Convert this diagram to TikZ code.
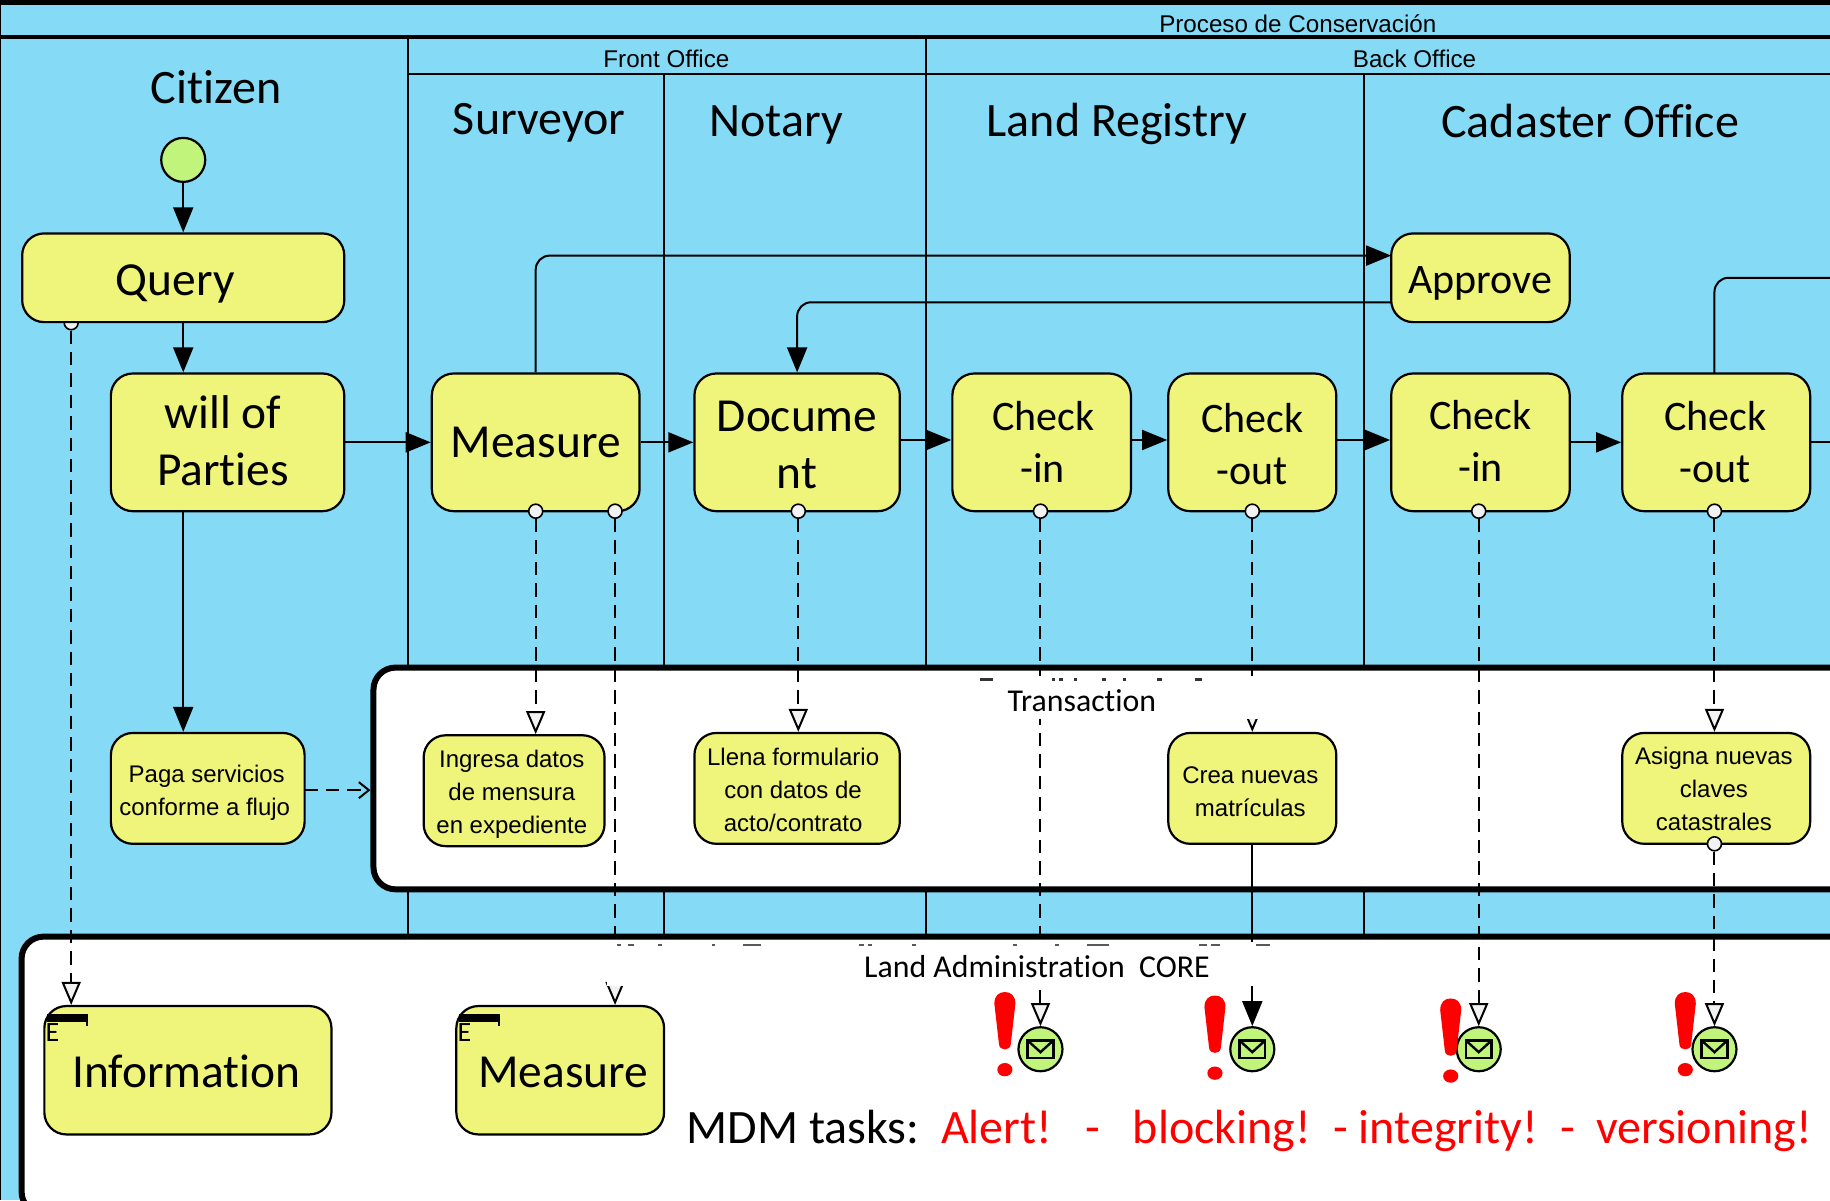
\documentclass[tikz,border=0pt]{standalone}
\usepackage{fontspec}
\setmainfont{Carlito}[Ligatures=NoCommon]
\newfontfamily\arialf{Liberation Sans}
\usetikzlibrary{arrows.meta,backgrounds}
\definecolor{lane}{HTML}{85DBF6}
\definecolor{taskfill}{HTML}{EFF47A}
\definecolor{evfill}{HTML}{C1F47A}
\definecolor{tipfill}{HTML}{F2F2F2}
\def\U{0.5835}
\newcommand{\boxat}[7]{%
  \pgfmathsetmacro\cx{(#3+#5)/2}\pgfmathsetmacro\cy{(#4+#6)/2}%
  \pgfmathsetmacro\ww{(#5-#3)*\U}\pgfmathsetmacro\hh{(#6-#4)*\U}%
  \node[#1,minimum width=\ww pt,minimum height=\hh pt] (#2) at (\cx,\cy) {#7};}
\newcommand{\nudge}[2]{\raisebox{#1}[\height][\depth]{\begin{tabular}{@{}c@{}}#2\end{tabular}}}
\newcommand{\bang}[3]{%
  \begin{scope}[shift={(#1,#2)},yscale=#3]
  \fill[red] (0,10) .. controls (0,3) and (4,0) .. (9,0) .. controls (14,0) and (18,3) .. (18,10)
    -- (14,45) .. controls (13.5,50.5) and (4.5,50.5) .. (4,45) -- cycle;
  \fill[red] (9,66.5) ellipse [x radius=6.5,y radius=5.7];
  \end{scope}}
\newcommand{\envelope}[2]{%
  \begin{scope}[shift={(#1,#2)}]
  \draw[line width=1.2pt] (-11,-7.5) rectangle (11,7.5);
  \draw[line width=1.2pt] (-11,-7.5) -- (0,2.5) -- (11,-7.5);
  \end{scope}}
\newcommand{\marker}[2]{%
  \begin{scope}[shift={(#1,#2)}]
  \fill (0,0) rectangle (35,7);
  \draw[line width=.6pt] (34.5,7) -- (34.5,10);
  \end{scope}}
\tikzset{
  x=0.5835pt,y=-0.5835pt,
  taskbox/.style={rectangle,draw,fill=taskfill,line width=1.1pt,rounded corners=11pt,inner sep=0pt,align=center},
  bigtask/.style={taskbox,font=\fontsize{23.7}{28.6}\selectfont},
  midtask/.style={taskbox,font=\fontsize{21}{26}\selectfont},
  smalltask/.style={taskbox,font=\arialf\fontsize{12}{16.5}\selectfont},
  container/.style={rectangle,draw,fill=white,line width=3pt,rounded corners=11pt,inner sep=0pt},
  lanehead/.style={inner sep=0pt,anchor=base,font=\fontsize{24}{28}\selectfont},
  midhead/.style={inner sep=0pt,font=\arialf\fontsize{12.1}{15}\selectfont},
  boxtitle/.style={inner sep=0pt,font=\fontsize{15.9}{19}\selectfont},
  lanerule/.style={line width=1pt},
  seq/.style={line width=1pt,-{Triangle[length=12.5pt,width=10pt]}},
  msg/.style={line width=1pt,dash pattern=on 6.7pt off 4pt,-{Triangle[length=11.5pt,width=9.5pt,fill=tipfill]}},
  portnode/.style={circle,draw,fill=tipfill,line width=.8pt,minimum size=7pt,inner sep=0pt},
  startev/.style={circle,draw,fill=evfill,line width=1.1pt,minimum size=22pt,inner sep=0pt},
  msgev/.style={circle,draw,fill=evfill,line width=1.1pt,minimum size=22pt,inner sep=0pt},
  mdm/.style={inner sep=0pt,anchor=base,font=\fontsize{24}{28}\selectfont},
  mdmred/.style={mdm,text=red},
  ebadge/.style={inner sep=0pt,font=\fontsize{14}{14}\selectfont},
}
\begin{document}
\begin{tikzpicture}
\useasboundingbox (0,0) rectangle (1568,1028.2);

% port hidden half behind the Query task
\node[portnode] (pq) at (61,276.5) {};

% tasks and events
\boxat{bigtask}{query}{19}{200}{295}{276}{\nudge{-2.9pt}{Query}\hspace*{8pt}}
\boxat{bigtask}{will}{95}{320}{295}{438}{\nudge{-1.7pt}{will of\\Parties}\hspace*{4.7pt}}
\boxat{bigtask}{meas}{370}{320}{548}{438}{Measure}
\boxat{bigtask}{doc}{595}{320}{771}{438}{\nudge{-3.2pt}{Docume\\nt}}
\boxat{midtask}{chka}{816}{320}{969}{438}{\hspace*{1.5pt}Check\\\hspace*{1pt}-in}
\boxat{midtask}{chkb}{1001}{320}{1145}{438}{\nudge{-2.9pt}{Check\\-out}}
\boxat{midtask}{chkc}{1192}{320}{1345}{438}{\nudge{-1.4pt}{Check\\-in}}
\boxat{midtask}{chkd}{1390}{320}{1551}{438}{Check\hspace*{1pt}\\-out\hspace*{1pt}}
\boxat{midtask}{appr}{1192}{200}{1345}{276}{\nudge{-2.9pt}{Approve}}
\boxat{smalltask}{paga}{95}{628}{261}{723}{\nudge{-1.8pt}{Paga servicios\\conforme a flujo\hspace*{2pt}}\hspace*{1pt}}
\boxat{smalltask}{ingr}{363}{630}{518}{725}{\nudge{-1.8pt}{Ingresa datos\\de mensura\\en expediente}\hspace*{2.3pt}}
\boxat{smalltask}{llen}{595}{628}{771}{723}{\nudge{-1.6pt}{Llena formulario\\con datos de\\acto/contrato}\hspace*{4pt}}
\boxat{smalltask}{crea}{1001}{628}{1145}{723}{\nudge{-2.4pt}{Crea nuevas\\matrículas}\hspace*{2pt}}
\boxat{smalltask}{asig}{1390}{628}{1551}{723}{\nudge{-1.2pt}{Asigna nuevas\\claves\\catastrales}\hspace*{2.3pt}}
\boxat{bigtask}{info}{38}{862}{284}{972}{\nudge{-2.9pt}{Information}\hspace*{1.5pt}}
\boxat{bigtask}{mtask}{391}{862}{569}{972}{\hspace*{3pt}\nudge{-2.95pt}{Measure}}
\node[startev] (start) at (157,137) {};
\node[msgev] (eva) at (891.5,899) {};
\node[msgev] (evb) at (1073,899) {};
\node[msgev] (evc) at (1267,899) {};
\node[msgev] (evd) at (1469,899) {};
\envelope{891.5}{899}\envelope{1073}{899}\envelope{1267}{899}\envelope{1469}{899}
\marker{40}{869}\marker{393}{869}
\node[ebadge] (einfo) at (45,885) {E};
\node[ebadge] (emeas) at (398,885) {E};

% ports
\node[portnode] (pma) at (459,438) {};
\node[portnode] (pmb) at (527,438) {};
\node[portnode] (pd) at (684,438) {};
\node[portnode] (pca) at (891.5,438) {};
\node[portnode] (pcb) at (1073,438) {};
\node[portnode] (pcc) at (1267,438) {};
\node[portnode] (pcd) at (1469,438) {};
\node[portnode] (pas) at (1469,723) {};

% free connector ends
\coordinate (exa) at (1568,379);
\coordinate (exb) at (1568,238);
\coordinate (ina) at (1192,219);
\coordinate (inb) at (1192,259);
\coordinate (wb) at (157,438);
\coordinate (chout) at (1469,320);
\coordinate (pgx) at (261,677);

% labels
\node[midhead] (tproc) at (1112,20) {Proceso de Conservación};
\node[midhead] (tfront) at (571,50) {Front Office};
\node[midhead] (tback) at (1212,50) {Back Office};
\node[lanehead] (tcit) at (185,89) {Citizen};
\node[lanehead] (tsur) at (462,115) {Surveyor};
\node[lanehead] (tnot) at (665,117) {Notary};
\node[lanehead] (tland) at (957,117) {Land Registry};
\node[lanehead] (tcad) at (1362.5,117.5) {Cadaster Office};
\node[boxtitle] (ttrans) at (927,600) {Transaction};
\node[boxtitle] (tcore) at (888.5,828) {Land Administration\ \ CORE};
\node[mdm] (tmdm) at (688,980) {MDM tasks:};
\node[mdmred] (talert) at (854,980) {Alert!};
\node[mdmred] (tda) at (936,980) {-};
\node[mdmred] (tblock) at (1047,980) {blocking!};
\node[mdmred] (tdb) at (1149,980) {-};
\node[mdmred] (tinteg) at (1241,980) {integrity!};
\node[mdmred] (tdc) at (1343,980) {-};
\node[mdmred] (tvers) at (1460,980) {versioning!};
\bang{852}{850}{1}\bang{1032}{853}{1}\bang{1234}{855.5}{1}\bang{1435}{850}{1}

\begin{pgfonlayer}{background}
  \fill[lane] (0,0) rectangle (1568,1028.2);
  \fill (0,0) rectangle (1568,4.5);
  \draw[line width=.6pt] (.6,4) -- (.6,1028.2);
  \draw[line width=2pt] (0,32) -- (1568,32);
  \draw[lanerule] (350,63) -- (1568,63);
  \draw[lanerule] (350,32) -- (350,802);
  \draw[lanerule] (793.5,32) -- (793.5,802);
  \draw[lanerule] (569,63) -- (569,802);
  \draw[lanerule] (1169,63) -- (1169,802);
  \boxat{container}{trans}{320}{572}{1620}{762}{}
  \boxat{container}{core}{18.5}{802.5}{1620}{1040}{}

  % sequence flows
  \draw[seq] (start) -- (query.north);
  \draw[seq] (query.south) -- (query.south |- will.north);
  \draw[seq] (will.east) -- (meas.west);
  \draw[seq] (meas.east) -- (doc.west);
  \draw[seq] ([yshift=1.17pt]doc.east) -- ([yshift=1.17pt]chka.west);
  \draw[seq] ([yshift=1.17pt]chka.east) -- ([yshift=1.17pt]chkb.west);
  \draw[seq] ([yshift=1.17pt]chkb.east) -- ([yshift=1.17pt]chkc.west);
  \draw[seq] (chkc.east) -- (chkd.west);
  \draw[line width=1pt] (chkd.east) -- (exa);
  \draw[seq] (wb) -- (wb |- paga.north);
  \draw[seq,rounded corners=7pt] (meas.north) |- (ina);
  \draw[seq,rounded corners=7pt] (inb) -| (doc.north);
  \draw[line width=1pt,rounded corners=7pt] (chout) |- (exb);
  \draw[seq] (crea.south) -- (evb.north);

  % message flows
  \draw[msg] (pq) -- (pq |- info.north);
  \draw[msg] (pma) -- (pma |- ingr.north);
  \draw[msg] (pmb) -- (pmb |- mtask.north);
  \draw[msg] (pd) -- (pd |- llen.north);
  \draw[msg] (pca) -- (eva.north);
  \draw[msg] (pcb) -- (pcb |- crea.north);
  \draw[msg] (pcc) -- (evc.north);
  \draw[msg] (pcd) -- (pcd |- asig.north);
  \draw[msg] (pas) -- (evd.north);
  \draw[line width=1pt,dash pattern=on 6.7pt off 4pt,-{Straight Barb[length=5pt,width=8pt]}] (pgx) -- (trans.west |- pgx);

  % title bands that mask the flows
  \fill[white] (830,579) rectangle (1095,616);
  \fill[white] (520,807) rectangle (1095,845);
  \foreach \a/\b in {840/851,901/904,907/911,920/923,944/948,962/965,991/996,1024/1030}
    \fill[black!80] (\a,581) rectangle (\b,583.2);
  \foreach \a/\b in {529/532,538/543,564/567,610/613,637/652,736/740,744/747,781/785,868/871,904/907,931/950,1027/1034,1038/1045,1076/1088}
    \fill[black!65] (\a,808.5) rectangle (\b,810.2);
\end{pgfonlayer}
\end{tikzpicture}
\end{document}
